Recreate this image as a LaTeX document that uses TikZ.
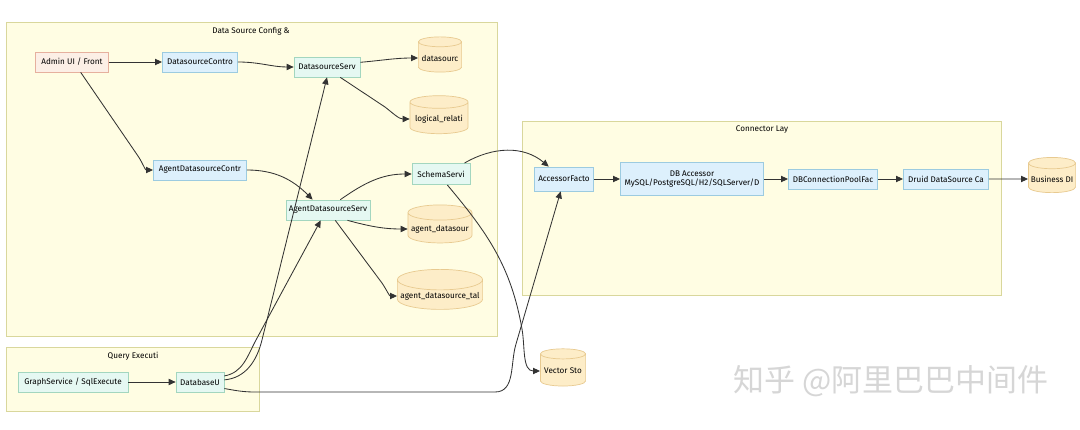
\documentclass[tikz,border=0pt]{standalone}
\usepackage{fontspec}
\setmainfont{Fira Sans}
\newfontfamily\cjkfont{Noto Sans CJK SC}
\usetikzlibrary{arrows.meta,shapes.geometric}
\definecolor{clusterfill}{HTML}{FFFDE3}
\definecolor{clusterline}{HTML}{D9D79C}
\definecolor{uipink}{HTML}{FCEFE6}
\definecolor{uiline}{HTML}{E6B09E}
\definecolor{ctrlblue}{HTML}{DDF0FC}
\definecolor{ctrlline}{HTML}{9CCBE0}
\definecolor{svcmint}{HTML}{E5F8F2}
\definecolor{svcline}{HTML}{A3D6BF}
\definecolor{dbfill}{HTML}{FDEDC8}
\definecolor{dbline}{HTML}{E8CA90}
\definecolor{edgegray}{HTML}{333333}
\tikzset{
  base/.style={draw, line width=0.5pt, minimum height=0.5cm, inner sep=1pt, font=\fontsize{5.8}{7}\selectfont},
  uibox/.style={base, fill=uipink, draw=uiline},
  ctrlbox/.style={base, fill=ctrlblue, draw=ctrlline},
  svcbox/.style={base, fill=svcmint, draw=svcline},
  dbcyl/.style={base, shape=cylinder, shape border rotate=90, aspect=0.25, fill=dbfill, draw=dbline},
  cluster/.style={fill=clusterfill, draw=clusterline, line width=0.5pt},
  title/.style={font=\fontsize{5.8}{7}\selectfont, anchor=north},
  flow/.style={draw=edgegray, line width=0.6pt, -{Triangle[length=5pt,width=4.5pt]}},
}
\begin{document}
\begin{tikzpicture}[x=0.025cm,y=0.025cm]
  \fill[white] (0,0) rectangle (1080,429);
  \useasboundingbox (0,0) rectangle (1080,429);
  \draw[cluster] (6,407) rectangle (497,93);
  \draw[cluster] (6,82) rectangle (259,18);
  \draw[cluster] (522,308) rectangle (1001,134);
  \node[title] (cfgtitle) at (251,407) {Data Source Config \&};
  \node[title] (querytitle) at (133,82) {Query Executi};
  \node[title] (conntitle) at (762,308) {Connector Lay};

  \node[uibox, minimum width=1.83cm] (admin) at (72,367) {Admin UI / Front};
  \node[ctrlbox, minimum width=1.88cm] (dsctrl) at (200,367) {DatasourceContro};
  \node[svcbox, minimum width=1.65cm] (dsserv) at (327,362) {DatasourceServ};
  \node[dbcyl, minimum width=1.08cm, minimum height=0.88cm] (dscyl) at (440,371) {datasourc};
  \node[dbcyl, minimum width=1.45cm, minimum height=0.95cm] (logical) at (439,310) {logical\_relati};
  \node[ctrlbox, minimum width=2.33cm] (agctrl) at (200,259) {AgentDatasourceContr};
  \node[svcbox, minimum width=1.45cm, minimum height=0.53cm] (schema) at (441,255) {SchemaServi};
  \node[svcbox, minimum width=2.1cm] (agserv) at (328,219) {AgentDatasourceServ};
  \node[dbcyl, minimum width=1.6cm, minimum height=0.95cm] (agcyl) at (440,200) {agent\_datasour};
  \node[dbcyl, minimum width=2.13cm, minimum height=1cm] (agtab) at (440,133) {agent\_datasource\_tal};
  \node[svcbox, minimum width=2.75cm] (graph) at (73,47) {GraphService / SqlExecute};
  \node[svcbox, minimum width=1.2cm] (dbu) at (200,47) {DatabaseU};
  \node[ctrlbox, minimum width=1.48cm, minimum height=0.6cm] (accessor) at (564,250) {AccessorFacto};
  \node[ctrlbox, minimum width=3.58cm, minimum height=0.83cm, align=center] (dbacc) at (692,250) {DB Accessor\\MySQL/PostgreSQL/H2/SQLServer/D};
  \node[ctrlbox, minimum width=2.23cm] (pool) at (833,250) {DBConnectionPoolFac};
  \node[ctrlbox, minimum width=2.13cm] (druid) at (946,250) {Druid DataSource Ca};
  \node[dbcyl, minimum width=1.18cm, minimum height=0.88cm] (biz) at (1052,250) {Business DI};
  \node[dbcyl, minimum width=1.13cm, minimum height=0.93cm] (vector) at (563,58) {Vector Sto};
  \node[font=\cjkfont\fontsize{22}{24}\selectfont, text=gray!32] (mark) at (891,48) {知乎 @阿里巴巴中间件};

  \draw[flow] (admin.east) -- (dsctrl.west);
  \draw[flow] (admin.-50) -- (138,273) to[out=-56,in=180] (agctrl.west);
  \draw[flow] (dsctrl.east) to[out=0,in=180] (dsserv.west);
  \draw[flow] (dsserv.8) to[out=5,in=180] (dscyl.west);
  \draw[flow] (dsserv.-38) -- (385,322) to[out=-38,in=180] (logical.west);
  \draw[flow] (agctrl.east) to[out=0,in=135] (agserv.146);
  \draw[flow] (agserv.40) to[out=35,in=180] (schema.west);
  \draw[flow] (agserv.-28) to[out=-15,in=180] (agcyl.west);
  \draw[flow] (agserv.-55) -- (382,146) to[out=-56,in=180] (agtab.west);
  \draw[flow] (schema.25) to[out=30,in=140] (accessor.141);
  \draw[flow] (schema.-60) to[out=-50,in=100] (522,100) to[out=-80,in=180] (vector.west);
  \draw[flow] (graph.east) -- (dbu.west);
  \draw[flow] (dbu.5) to[out=5,in=-104] (262,89) -- (dsserv.south);
  \draw[flow] (dbu.14) to[out=10,in=-118] (256,89) -- (agserv.-125);
  \draw[flow] (dbu.-15) to[out=-10,in=180] (255,37) -- (495,37) to[out=0,in=-107] (516,85) -- (accessor.-105);
  \draw[flow] (accessor.east) -- (dbacc.west);
  \draw[flow] (dbacc.east) -- (pool.west);
  \draw[flow] (pool.east) -- (druid.west);
  \draw[flow] (druid.east) -- (biz.west);
\end{tikzpicture}
\end{document}
